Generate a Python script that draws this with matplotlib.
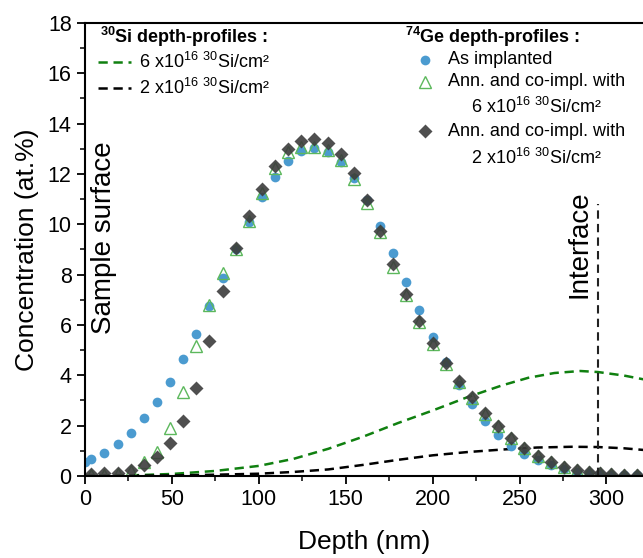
import matplotlib
matplotlib.use("Agg")
import matplotlib.pyplot as plt
from matplotlib.ticker import MultipleLocator

plt.rcParams['font.family'] = ['Liberation Sans', 'DejaVu Sans']
plt.rcParams['mathtext.fontset'] = 'custom'
plt.rcParams['mathtext.rm'] = 'Liberation Sans'
plt.rcParams['mathtext.bf'] = 'Liberation Sans:bold'

# 74Ge depth profiles (depth in nm, concentration in at.%)
depth_asimpl = [0.3, 3.6, 11.2, 18.8, 26.3, 33.9, 41.4, 49.0, 56.5, 64.1, 71.6, 79.2,
                86.7, 94.3, 101.8, 109.4, 116.9, 124.5, 132.0, 139.6, 147.1, 154.7,
                162.2, 169.8, 177.3, 184.9, 192.4, 200.0, 207.5, 215.1, 222.6, 230.2,
                237.7, 245.3, 252.8, 260.4, 267.9, 275.5, 283.0, 290.0, 296.0, 302.6,
                310.0, 317.4]
ge_asimpl = [0.55, 0.66, 0.91, 1.28, 1.71, 2.29, 2.94, 3.74, 4.66, 5.65, 6.75, 7.88,
             9.02, 10.08, 11.07, 11.89, 12.5, 12.91, 13.02, 12.86, 12.46, 11.84,
             10.97, 9.94, 8.85, 7.69, 6.6, 5.51, 4.52, 3.6, 2.85, 2.19,
             1.64, 1.2, 0.86, 0.62, 0.42, 0.28, 0.17, 0.1, 0.06, 0.04,
             0.03, 0.02]

depth_ann = [3.6, 11.2, 18.8, 26.3, 33.9, 41.4, 49.0, 56.5, 64.1, 71.6, 79.2,
             86.7, 94.3, 101.8, 109.4, 116.9, 124.5, 132.0, 139.6, 147.1, 154.7,
             162.2, 169.8, 177.3, 184.9, 192.4, 200.0, 207.5, 215.1, 222.6, 230.2,
             237.7, 245.3, 252.8, 260.4, 267.9, 275.5, 283.0, 290.0, 296.0, 302.6,
             310.0, 317.4]
ge_ann_6e16 = [0.05, 0.05, 0.08, 0.2, 0.55, 0.97, 1.92, 3.35, 5.18, 6.8, 8.05,
               9.0, 10.14, 11.23, 12.22, 12.88, 13.06, 13.08, 12.95, 12.55, 11.8,
               10.83, 9.71, 8.3, 7.2, 6.1, 5.25, 4.45, 3.75, 3.1, 2.48,
               1.97, 1.5, 1.1, 0.78, 0.55, 0.36, 0.24, 0.17, 0.1, 0.08,
               0.05, 0.05]
ge_ann_2e16 = [0.08, 0.1, 0.13, 0.22, 0.45, 0.77, 1.3, 2.19, 3.51, 5.35, 7.36,
               9.07, 10.34, 11.4, 12.32, 12.98, 13.32, 13.39, 13.22, 12.78, 12.03,
               10.97, 9.73, 8.42, 7.23, 6.17, 5.3, 4.5, 3.79, 3.15, 2.52,
               2.0, 1.52, 1.12, 0.79, 0.56, 0.37, 0.24, 0.17, 0.1, 0.08,
               0.05, 0.05]

# 30Si depth profiles
depth_si6 = [0, 25, 50, 75, 100, 120, 140, 160, 180, 200, 220, 240, 255, 270, 285,
             295, 310, 322]
si_6e16 = [0.0, 0.02, 0.08, 0.2, 0.4, 0.68, 1.08, 1.56, 2.1, 2.6, 3.13, 3.6, 3.9,
           4.09, 4.17, 4.13, 3.99, 3.83]
depth_si2 = [0, 50, 75, 100, 120, 140, 160, 180, 200, 220, 240, 260, 280, 295, 310, 322]
si_2e16 = [0.0, 0.02, 0.05, 0.09, 0.16, 0.26, 0.44, 0.64, 0.82, 0.95, 1.05, 1.13,
           1.16, 1.15, 1.1, 1.03]

interface_depth = 295

dose_6 = "6 x10$^{16}$ $^{30}$Si/cm\u00b2"
dose_2 = "2 x10$^{16}$ $^{30}$Si/cm\u00b2"

W, H = 643, 558
fig = plt.figure(figsize=(W / 100, H / 100), dpi=100)
ax_l, ax_b, ax_w, ax_h = 0.132, 0.147, 0.868, 0.812
ax = fig.add_axes([ax_l, ax_b, ax_w, ax_h])

green = '#108010'
blue = '#4b9bd0'
tri_green = '#5cb85c'
dia_grey = '#3c3c3c'

# Si profiles
ax.plot(depth_si6, si_6e16, color=green, lw=1.8, dashes=(3.7, 2.3))
ax.plot(depth_si2, si_2e16, color='black', lw=1.8, dashes=(3.7, 2.3))

# Ge profiles
ax.plot(depth_asimpl, ge_asimpl, 'o', color=blue, ms=7, mec='none')
ax.plot(depth_ann, ge_ann_6e16, '^', mfc='none', mec=tri_green, ms=8, mew=1.0)
ax.plot(depth_ann, ge_ann_2e16, 'D', color=dia_grey, ms=7, mec='none', alpha=0.9)

# interface
ax.plot([interface_depth, interface_depth], [0, 10.8], color='#222222', lw=1.5,
        dashes=(4, 2.5))
ax.text(284.5, 9.2, "Interface", rotation=90, ha='center', va='center', fontsize=20)
ax.text(11, 9.48, "Sample surface", rotation=90, ha='center', va='center', fontsize=20)

ax.set_xlim(0, 321)
ax.set_ylim(0, 18)
ax.xaxis.set_major_locator(MultipleLocator(50))
ax.xaxis.set_minor_locator(MultipleLocator(25))
ax.yaxis.set_major_locator(MultipleLocator(2))
ax.yaxis.set_minor_locator(MultipleLocator(1))
ax.tick_params(which='major', direction='out', length=6, width=1.3, labelsize=15.5)
ax.tick_params(which='minor', direction='out', length=3.5, width=1.1)
for s in ['left', 'bottom', 'top']:
    ax.spines[s].set_linewidth(1.5)
ax.spines['right'].set_visible(False)

ax.set_xlabel("Depth (nm)", fontsize=19, labelpad=14)
ax.set_ylabel("Concentration (at.%)", fontsize=19, labelpad=6)


# legend blocks drawn by hand (pixel positions -> axes fraction)
def afx(px):
    return (px - ax_l * W) / (ax_w * W)


def afy(py):
    return (H * (1 - ax_b) - py) / (ax_h * H)


lt = dict(transform=ax.transAxes, fontsize=13, va='center')

# 30Si block
ax.text(afx(100), afy(37), "$\\mathbf{^{30}}$Si depth-profiles :", weight='bold', **lt)
for py, c, lab in [(62, green, dose_6), (88, 'black', dose_2)]:
    ax.plot([afx(98), afx(131)], [afy(py), afy(py)], color=c, lw=1.8,
            dashes=(3.7, 2.3), transform=ax.transAxes, clip_on=False)
    ax.text(afx(139), afy(py), lab, **lt)

# 74Ge block
ax.text(afx(405), afy(37), "$\\mathbf{^{74}}$Ge depth-profiles :", weight='bold', **lt)
ax.plot(afx(425), afy(60), 'o', color=blue, ms=7, mec='none', transform=ax.transAxes,
        clip_on=False)
ax.text(afx(448), afy(60), "As implanted", **lt)
ax.plot(afx(425), afy(82), '^', mfc='none', mec=tri_green, ms=8, mew=1.0,
        transform=ax.transAxes, clip_on=False)
ax.text(afx(448), afy(82), "Ann. and co-impl. with", **lt)
ax.text(afx(537), afy(107), dose_6, ha='center', transform=ax.transAxes, fontsize=13,
        va='center')
ax.plot(afx(425), afy(131), 'D', color=dia_grey, ms=7, mec='none', alpha=0.9,
        transform=ax.transAxes, clip_on=False)
ax.text(afx(448), afy(131), "Ann. and co-impl. with", **lt)
ax.text(afx(537), afy(158), dose_2, ha='center', transform=ax.transAxes, fontsize=13,
        va='center')

fig.savefig("out.png", dpi=100)
